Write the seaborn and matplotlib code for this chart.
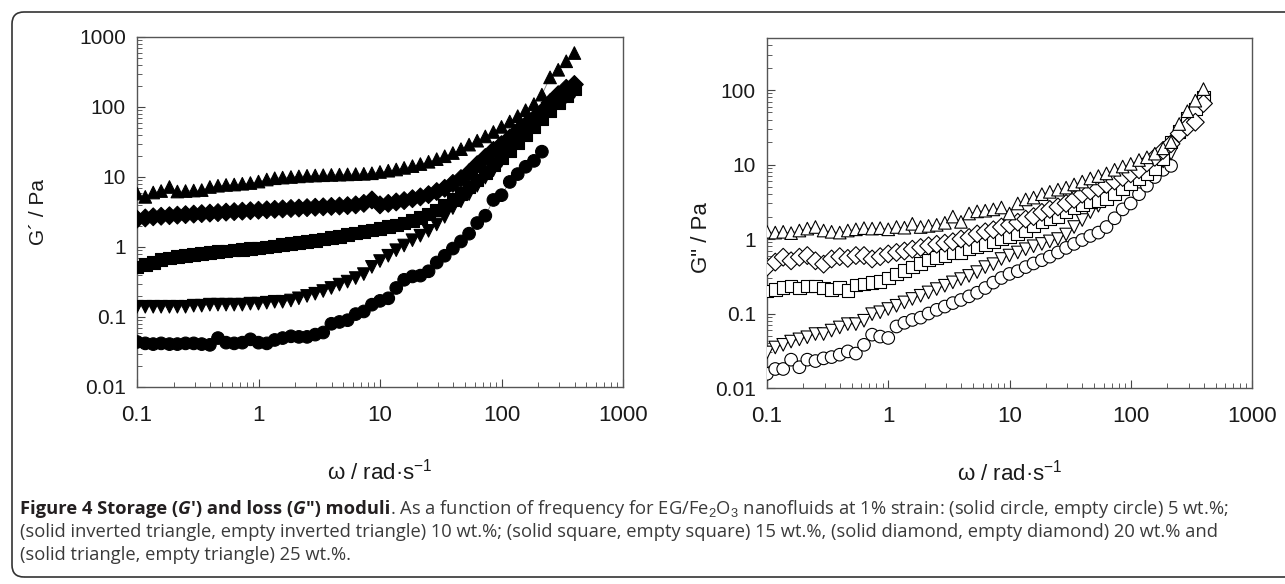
import numpy as np
import pandas as pd
import matplotlib.pyplot as plt
import seaborn as sns
from matplotlib.patches import FancyBboxPatch
from matplotlib.ticker import LogLocator, NullFormatter

# angular frequency grid (rad/s)
omega = [0.1, 0.117, 0.136, 0.158, 0.185, 0.215, 0.251, 0.293, 0.341, 0.398,
         0.464, 0.541, 0.631, 0.736, 0.858, 1.0, 1.17, 1.36, 1.58, 1.85,
         2.15, 2.51, 2.93, 3.41, 3.98, 4.64, 5.41, 6.31, 7.36, 8.58,
         10.0, 11.7, 13.6, 15.8, 18.5, 21.5, 25.1, 29.3, 34.1, 39.8,
         46.4, 54.1, 63.1, 73.6, 85.8, 100, 117, 136, 158, 185,
         215, 251, 293, 341, 398]

series = ['5 wt.%', '10 wt.%', '15 wt.%', '20 wt.%', '25 wt.%']

# storage modulus G' (Pa)
g1_5 = [0.044, 0.042, 0.041, 0.042, 0.041, 0.041, 0.042, 0.042, 0.041, 0.040,
        0.050, 0.043, 0.042, 0.043, 0.048, 0.043, 0.042, 0.047, 0.050, 0.053,
        0.052, 0.052, 0.056, 0.060, 0.080, 0.085, 0.090, 0.110, 0.120, 0.150,
        0.170, 0.185, 0.260, 0.340, 0.380, 0.390, 0.450, 0.600, 0.750, 0.950,
        1.20, 1.55, 2.20, 2.80, 4.70, 5.50, 8.50, 11.0, 14.0, 17.0,
        23.0]
g1_10 = [0.14, 0.14, 0.14, 0.14, 0.14, 0.14, 0.14, 0.145, 0.145, 0.15,
         0.15, 0.15, 0.15, 0.15, 0.155, 0.155, 0.16, 0.165, 0.165, 0.172,
         0.185, 0.20, 0.215, 0.235, 0.26, 0.29, 0.32, 0.36, 0.41, 0.52,
         0.63, 0.75, 0.90, 1.05, 1.25, 1.45, 1.70, 2.10, 2.70, 3.60,
         4.5, 5.7, 7.5, 9.8, 12.5, 17, 25, 34, 46, 60,
         76, 98, 118, 140, 165]
g1_15 = [0.52, 0.56, 0.60, 0.66, 0.70, 0.73, 0.76, 0.78, 0.80, 0.83,
         0.86, 0.88, 0.90, 0.92, 0.95, 0.97, 1.00, 1.04, 1.08, 1.12,
         1.16, 1.20, 1.25, 1.30, 1.36, 1.42, 1.50, 1.58, 1.66, 1.75,
         1.85, 1.95, 2.05, 2.20, 2.40, 2.65, 2.95, 3.40, 4.00, 4.80,
         5.8, 7.2, 9.0, 11.5, 15, 19, 24, 31, 40, 52,
         68, 88, 115, 145, 180]
g1_20 = [2.5, 2.6, 2.7, 2.75, 2.8, 2.85, 2.9, 2.95, 3.0, 3.05,
         3.1, 3.15, 3.2, 3.25, 3.3, 3.35, 3.4, 3.45, 3.5, 3.55,
         3.6, 3.65, 3.7, 3.75, 3.8, 3.85, 3.9, 4.0, 4.2, 4.7,
         4.0, 4.2, 4.4, 4.6, 4.9, 5.2, 5.6, 6.2, 6.9, 8.1,
         9.5, 11.5, 15, 19, 24, 29, 36, 45, 55, 68,
         85, 115, 150, 185, 210]
g1_25 = [5.8, 5.2, 6.0, 6.3, 7.2, 6.2, 6.3, 6.4, 6.5, 7.2,
         7.5, 7.7, 7.8, 8.0, 8.2, 8.6, 9.2, 9.6, 9.8, 10.0,
         10.2, 10.4, 10.5, 10.6, 10.7, 10.8, 10.9, 11.0, 11.1, 11.3,
         11.8, 12.3, 12.8, 13.5, 14.3, 15.3, 16.5, 18.0, 19.8, 22.0,
         25, 29, 33, 38, 44, 52, 62, 74, 90, 110,
         150, 265, 340, 450, 590]

# loss modulus G'' (Pa)
g2_5 = [0.0155, 0.018, 0.018, 0.024, 0.019, 0.024, 0.023, 0.025, 0.026, 0.028,
        0.031, 0.029, 0.038, 0.052, 0.049, 0.047, 0.067, 0.075, 0.082, 0.088,
        0.100, 0.112, 0.124, 0.138, 0.152, 0.170, 0.190, 0.220, 0.260, 0.300,
        0.34, 0.37, 0.42, 0.47, 0.52, 0.58, 0.66, 0.76, 0.86, 0.97,
        1.10, 1.22, 1.45, 1.90, 2.50, 3.00, 4.00, 5.20, 6.80, 8.50,
        9.6]
g2_10 = [0.030, 0.035, 0.038, 0.042, 0.045, 0.048, 0.053, 0.053, 0.059, 0.065,
         0.072, 0.072, 0.080, 0.098, 0.104, 0.115, 0.127, 0.141, 0.157, 0.173,
         0.192, 0.213, 0.236, 0.262, 0.290, 0.320, 0.360, 0.420, 0.460, 0.540,
         0.60, 0.66, 0.73, 0.80, 0.86, 0.93, 1.00, 1.15, 1.45, 1.80,
         2.3, 2.8, 3.4, 4.0, 4.7, 5.6, 6.8, 7.9, 8.7, 11,
         14]
g2_15 = [0.200, 0.210, 0.225, 0.235, 0.220, 0.235, 0.235, 0.220, 0.210, 0.225,
         0.205, 0.240, 0.250, 0.260, 0.270, 0.300, 0.340, 0.380, 0.420, 0.470,
         0.52, 0.57, 0.60, 0.66, 0.66, 0.73, 0.78, 0.85, 0.92, 1.00,
         1.08, 1.17, 1.30, 1.50, 1.70, 1.85, 2.00, 2.30, 2.60, 2.90,
         3.2, 3.3, 3.5, 4.1, 4.8, 5.5, 6.5, 7.5, 8.7, 12,
         20, 28, 42, 56, 80]
g2_20 = [0.42, 0.49, 0.57, 0.51, 0.57, 0.60, 0.51, 0.46, 0.54, 0.58,
         0.55, 0.60, 0.60, 0.54, 0.58, 0.63, 0.66, 0.69, 0.73, 0.77,
         0.81, 0.85, 0.88, 0.92, 1.00, 1.05, 1.17, 1.25, 1.33, 1.45,
         1.55, 1.68, 1.85, 2.00, 2.28, 2.50, 2.70, 3.00, 3.40, 4.00,
         4.4, 4.8, 5.4, 6.0, 6.7, 7.5, 8.5, 10.5, 12.5, 15.5,
         19, 26, 32, 37, 66]
g2_25 = [1.25, 1.22, 1.25, 1.20, 1.30, 1.38, 1.45, 1.30, 1.25, 1.22,
         1.30, 1.35, 1.40, 1.38, 1.40, 1.35, 1.45, 1.42, 1.60, 1.45,
         1.50, 1.55, 1.65, 2.00, 1.70, 2.20, 2.35, 2.40, 2.50, 2.65,
         2.20, 3.00, 3.40, 3.60, 4.00, 4.30, 4.60, 4.90, 5.40, 5.90,
         6.5, 7.0, 7.6, 8.5, 9.4, 10.2, 11.5, 12.5, 14, 16.5,
         20, 35, 52, 72, 103]

markers = {'5 wt.%': 'o', '10 wt.%': 'v', '15 wt.%': 's', '20 wt.%': 'D', '25 wt.%': '^'}


def long_table(cols):
    rows = []
    for name, vals in zip(series, cols):
        for w, g in zip(omega, vals):
            rows.append((name, w, g))
    return pd.DataFrame(rows, columns=['series', 'omega', 'G'])


df1 = long_table([g1_5, g1_10, g1_15, g1_20, g1_25])
df2 = long_table([g2_5, g2_10, g2_15, g2_20, g2_25])

sns.set_style('ticks')
plt.rcParams['font.family'] = ['Liberation Sans', 'DejaVu Sans']
plt.rcParams['mathtext.fontset'] = 'custom'
plt.rcParams['mathtext.rm'] = 'Liberation Sans'
plt.rcParams['mathtext.it'] = 'Liberation Sans:italic'
plt.rcParams['mathtext.bf'] = 'Liberation Sans:bold'

W, H = 1285, 584
fig = plt.figure(figsize=(W / 100, H / 100), dpi=100)
ax1 = fig.add_axes([137 / W, 1 - 387 / H, 486 / W, 350 / H])
ax2 = fig.add_axes([767 / W, 1 - 388 / H, 485 / W, 350 / H])

for ax, df, face in [(ax1, df1, 'black'), (ax2, df2, 'white')]:
    sns.lineplot(data=df, x='omega', y='G', units='series', estimator=None,
                 color='#808080', lw=0.6, ax=ax, legend=False)
    sns.scatterplot(data=df, x='omega', y='G', style='series', markers=markers,
                    color=face, edgecolor='black', linewidth=0.8, s=82,
                    ax=ax, legend=False, zorder=3)
    ax.set(xscale='log', yscale='log', xlim=(0.1, 1000))
    ax.set_xticks([0.1, 1, 10, 100, 1000])
    ax.set_xticklabels(['0.1', '1', '10', '100', '1000'])
    ax.xaxis.set_minor_locator(LogLocator(base=10, subs=np.arange(2, 10), numticks=30))
    ax.yaxis.set_minor_locator(LogLocator(base=10, subs=np.arange(2, 10), numticks=30))
    ax.xaxis.set_minor_formatter(NullFormatter())
    ax.yaxis.set_minor_formatter(NullFormatter())
    ax.tick_params(which='both', direction='in', top=False, right=False, colors='#444444',
                   labelcolor='#1a1a1a')
    ax.tick_params(which='major', length=6, width=0.8)
    ax.tick_params(which='minor', length=3.5, width=0.6)
    ax.tick_params(axis='x', labelsize=16, pad=13)
    ax.tick_params(axis='y', labelsize=15, pad=8)
    for sp in ax.spines.values():
        sp.set_color('#555555')
        sp.set_linewidth(1.0)
    ax.set_xlabel(r'ω / rad·s$^{-1}$', fontsize=16, color='#1a1a1a', va='top')
    ax.xaxis.set_label_coords(0.5, -0.205)

ax1.set_ylim(0.01, 1000)
ax1.set_yticks([0.01, 0.1, 1, 10, 100, 1000])
ax1.set_yticklabels(['0.01', '0.1', '1', '10', '100', '1000'])
ax1.set_ylabel('G´ / Pa', fontsize=15, color='#1a1a1a')
ax1.yaxis.set_label_coords(-0.183, 0.5)

ax2.set_ylim(0.01, 500)
ax2.set_yticks([0.01, 0.1, 1, 10, 100])
ax2.set_yticklabels(['0.01', '0.1', '1', '10', '100'])
ax2.set_ylabel('G" / Pa', fontsize=16, color='#1a1a1a')
ax2.yaxis.set_label_coords(-0.113, 0.43)

# frame round the figure
frame = FancyBboxPatch((12, 7), 1300, 565, boxstyle='round,pad=0,rounding_size=12',
                       transform=None, fill=False, ec='#333333', lw=1.2)
fig.patches.append(frame)

# caption, drawn piece by piece so bold / italic runs line up
renderer = fig.canvas.get_renderer()
cap = dict(family='Open Sans', fontsize=13.2)


def put_line(x, y, parts):
    for s, kw in parts:
        t = fig.text(x / W, 1 - y / H, s, va='baseline', ha='left', **cap, **kw)
        x += t.get_window_extent(renderer).width


bold = dict(weight='bold', color='#231f20')
boldit = dict(weight='bold', style='italic', color='#231f20')
reg = dict(color='#3a3a3a')
put_line(20, 514, [('Figure 4 Storage (', bold), ('G', boldit), ('′) and loss (', bold),
                   ('G', boldit), ('″) moduli', bold),
                   ('. As a function of frequency for EG/Fe$_2$O$_3$ nanofluids at 1% strain: '
                    '(solid circle, empty circle) 5 wt.%;', reg)])
put_line(20, 537, [('(solid inverted triangle, empty inverted triangle) 10 wt.%; (solid square, '
                    'empty square) 15 wt.%, (solid diamond, empty diamond) 20 wt.% and', reg)])
put_line(20, 560, [('(solid triangle, empty triangle) 25 wt.%.', reg)])

fig.savefig('out.png', dpi=100)
